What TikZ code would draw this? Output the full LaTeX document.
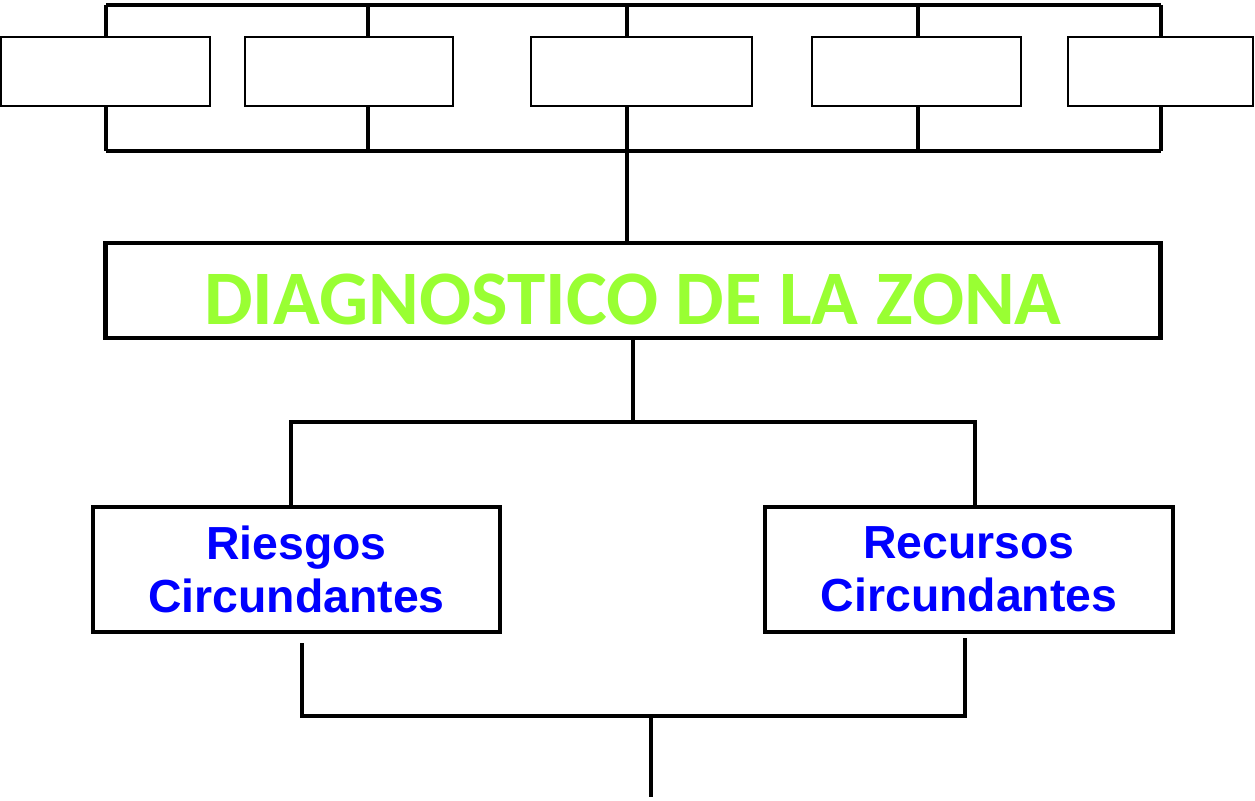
\documentclass[tikz,border=0pt]{standalone}
\usepackage{fontspec}
\setmainfont{Liberation Sans}
\newfontfamily\carlito{Carlito}
\definecolor{vert}{HTML}{99FF33}
\definecolor{bleu}{HTML}{0000FF}
\tikzset{
  petit/.style={draw,line width=1.2pt,minimum width=#1*0.02cm,minimum height=1.38cm,inner sep=0pt},
  gros/.style={draw,line width=2.8pt,inner sep=0pt},
  cadre/.style={gros,minimum width=#1*0.02cm,minimum height=2.5cm,text=bleu,align=center,
    font=\bfseries\fontsize{26.4}{30}\selectfont},
  trait/.style={line width=2.5pt}
}
\begin{document}
\begin{tikzpicture}[x=0.02cm,y=-0.02cm]
            \useasboundingbox (0,0) rectangle (1255,801);
            \node[petit=209] (b1) at (105.5,71.5) {};
            \node[petit=208] (b2) at (349,71.5) {};
            \node[petit=221] (b3) at (641.5,71.5) {};
            \node[petit=209] (b4) at (916.5,71.5) {};
            \node[petit=185] (b5) at (1160.5,71.5) {};
            \foreach \i/\x in {1/106,2/368,3/627,4/918,5/1161}{
              \coordinate (t\i) at (\x,5);
              \coordinate (u\i) at (\x,151);
              \draw[trait] (t\i) -- (t\i |- b\i.north);
              \draw[trait] (b\i.south -| u\i) -- (u\i);
            }
            \draw[trait] (t1) -- (t5);
            \draw[trait] (u1) -- (u5);
            \node[gros,minimum width=21.12cm,minimum height=1.9cm,text=vert,text height=1.36cm,text depth=0pt,
              font=\carlito\bfseries\fontsize{43.9}{44}\selectfont] (diag) at (633,290.5) {DIAGNOSTICO DE LA ZONA};
            \draw[trait] (u3) -- (u3 |- diag.north);
            \node[cadre=407] (ries) at (296.5,569.5) {Riesgos\\Circundantes};
            \node[cadre=408] (recu) at (969,569.5) {Recursos\\Circundantes};
            \coordinate (s) at (633,422);% haut des deux cadres
            \coordinate (sl) at (291,422);
            \coordinate (sr) at (975,422);
            \draw[trait] (diag.south -| s) -- (s);
            \draw[trait] (sl |- ries.north) -- (sl) -- (sr) -- (sr |- recu.north);
            \coordinate (bl) at (302,716);% bas
            \coordinate (br) at (965,716);
            \coordinate (m) at (651,716);
            \coordinate (fin) at (651,797);
            \draw[trait] ([yshift=-9*0.02cm]ries.south -| bl) -- (bl) -- (br) -- ([yshift=-4*0.02cm]recu.south -| br);
            \draw[trait] (m) -- (fin);
        \end{tikzpicture}
\end{document}
